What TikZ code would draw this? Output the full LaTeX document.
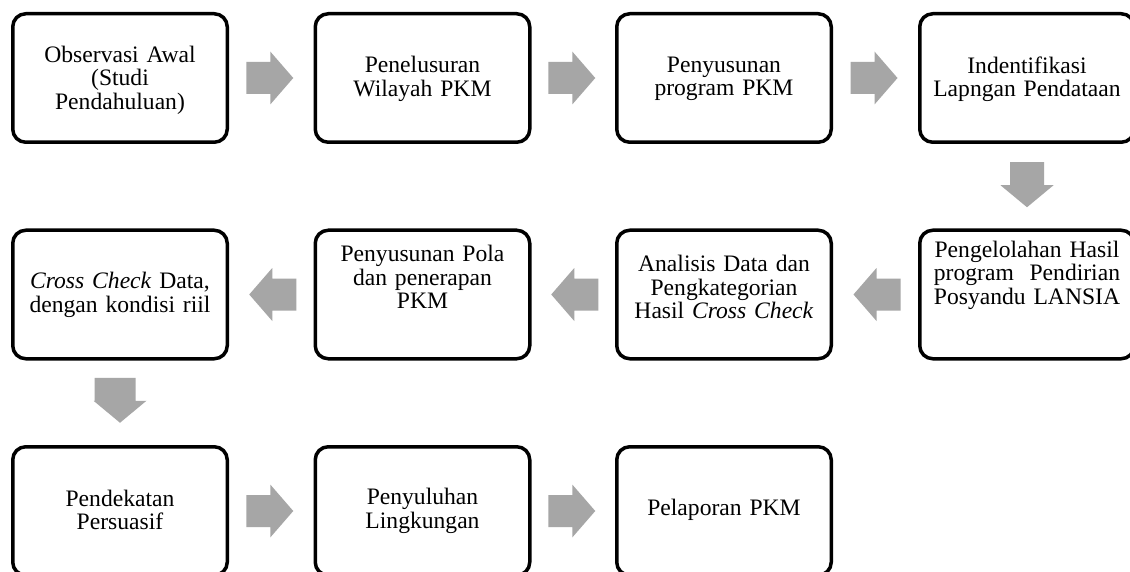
\documentclass[tikz,border=0pt]{standalone}
\usepackage{fontspec}
\setmainfont{Liberation Serif}
\usetikzlibrary{calc}
\definecolor{arrowgray}{RGB}{166,166,166}
\tikzset{
  stepbox/.style={draw=black, line width=3.5pt, rounded corners=13pt,
    minimum width=214.5pt, minimum height=128.5pt, inner sep=0pt, fill=white},
  boxtext/.style={align=center, text width=212pt, font=\fontsize{23.6}{23.5}\selectfont, inner sep=0pt},
  pics/rarr/.style={code={\fill[arrowgray] (-23.5,-16) -- (0.5,-16) -- (0.5,-26.5)
    -- (23.5,0) -- (0.5,26.5) -- (0.5,16) -- (-23.5,16) -- cycle;}},
  pics/larr/.style={code={\fill[arrowgray] (23.5,-16) -- (-0.5,-16) -- (-0.5,-26.5)
    -- (-23.5,0) -- (-0.5,26.5) -- (-0.5,16) -- (23.5,16) -- cycle;}},
  pics/darr/.style={code={\fill[arrowgray] (-17,-22.5) -- (17,-22.5) -- (17,0.5)
    -- (26.5,0.5) -- (0,22.5) -- (-26.5,0.5) -- (-17,0.5) -- cycle;}},
  pics/darrb/.style={code={\fill[arrowgray] (-25.5,-22.5) -- (15.5,-22.5) -- (15.5,0.5)
    -- (26.5,0.5) -- (0,22.5) -- (-26.5,0.5) -- (-25.5,0.5) -- cycle;}},
}
\begin{document}
\begin{tikzpicture}[x=1pt,y=-1pt]
\clip (0,0) rectangle (1130,572);
\useasboundingbox (0,0) rectangle (1130,572);
\fill[white] (0,0) rectangle (1130,572);
% row 1
\node[stepbox] (b1) at (120,78) {};
\node[stepbox] (b2) at (422.5,78) {};
\node[stepbox] (b3) at (724,78) {};
\node[stepbox] (b4) at (1027,78) {};
% row 2
\node[stepbox] (b8) at (120,294.5) {};
\node[stepbox] (b7) at (422.5,294.5) {};
\node[stepbox] (b6) at (724,294.5) {};
\node[stepbox] (b5) at (1027,294.5) {};
% row 3
\node[stepbox] (b9) at (120,511) {};
\node[stepbox] (b10) at (422.5,511) {};
\node[stepbox] (b11) at (724,511) {};
% texts
\node[boxtext] (t1) at (120,80) {Observasi Awal\\(Studi\\Pendahuluan)};
\node[boxtext] (t2) at (422.5,79) {Penelusuran\\Wilayah PKM};
\node[boxtext] (t3) at (724,79) {Penyusunan\\program PKM};
\node[boxtext] (t4) at (1027,79) {Indentifikasi\\Lapngan Pendataan};
\node[boxtext] (t5) at (1027,275) {Pengelolahan Hasil\\program\ \ Pendirian\\Posyandu LANSIA};
\node[boxtext] (t6) at (724,287) {Analisis Data dan\\Pengkategorian\\Hasil \textit{Cross Check}};
\node[boxtext] (t7) at (422.5,277) {Penyusunan Pola\\dan penerapan\\PKM};
\node[boxtext] (t8) at (120,295) {\textit{Cross Check} Data,\\dengan kondisi riil};
\node[boxtext] (t9) at (120,510) {Pendekatan\\Persuasif};
\node[boxtext] (t10) at (422.5,511) {Penyuluhan\\Lingkungan};
\node[boxtext] (t11) at (724,510) {Pelaporan PKM};
% arrows
\pic at ($($(b1.east)!0.5!(b2.west)$)+(-1.5,0)$) {rarr};
\pic at ($($(b2.east)!0.5!(b3.west)$)+(-1.5,0)$) {rarr};
\pic at ($($(b3.east)!0.5!(b4.west)$)+(-1.5,0)$) {rarr};
\pic at ($($(b4.south)!0.5!(b5.north)$)+(0,-1.5)$) {darr};
\pic at ($($(b6.east)!0.5!(b5.west)$)+(1.5,0)$) {larr};
\pic at ($($(b7.east)!0.5!(b6.west)$)+(1.5,0)$) {larr};
\pic at ($($(b8.east)!0.5!(b7.west)$)+(1.5,0)$) {larr};
\pic at ($($(b8.south)!0.5!(b9.north)$)+(0,-2.5)$) {darrb};
\pic at ($($(b9.east)!0.5!(b10.west)$)+(-1.5,0)$) {rarr};
\pic at ($($(b10.east)!0.5!(b11.west)$)+(-1.5,0)$) {rarr};
\end{tikzpicture}
\end{document}
